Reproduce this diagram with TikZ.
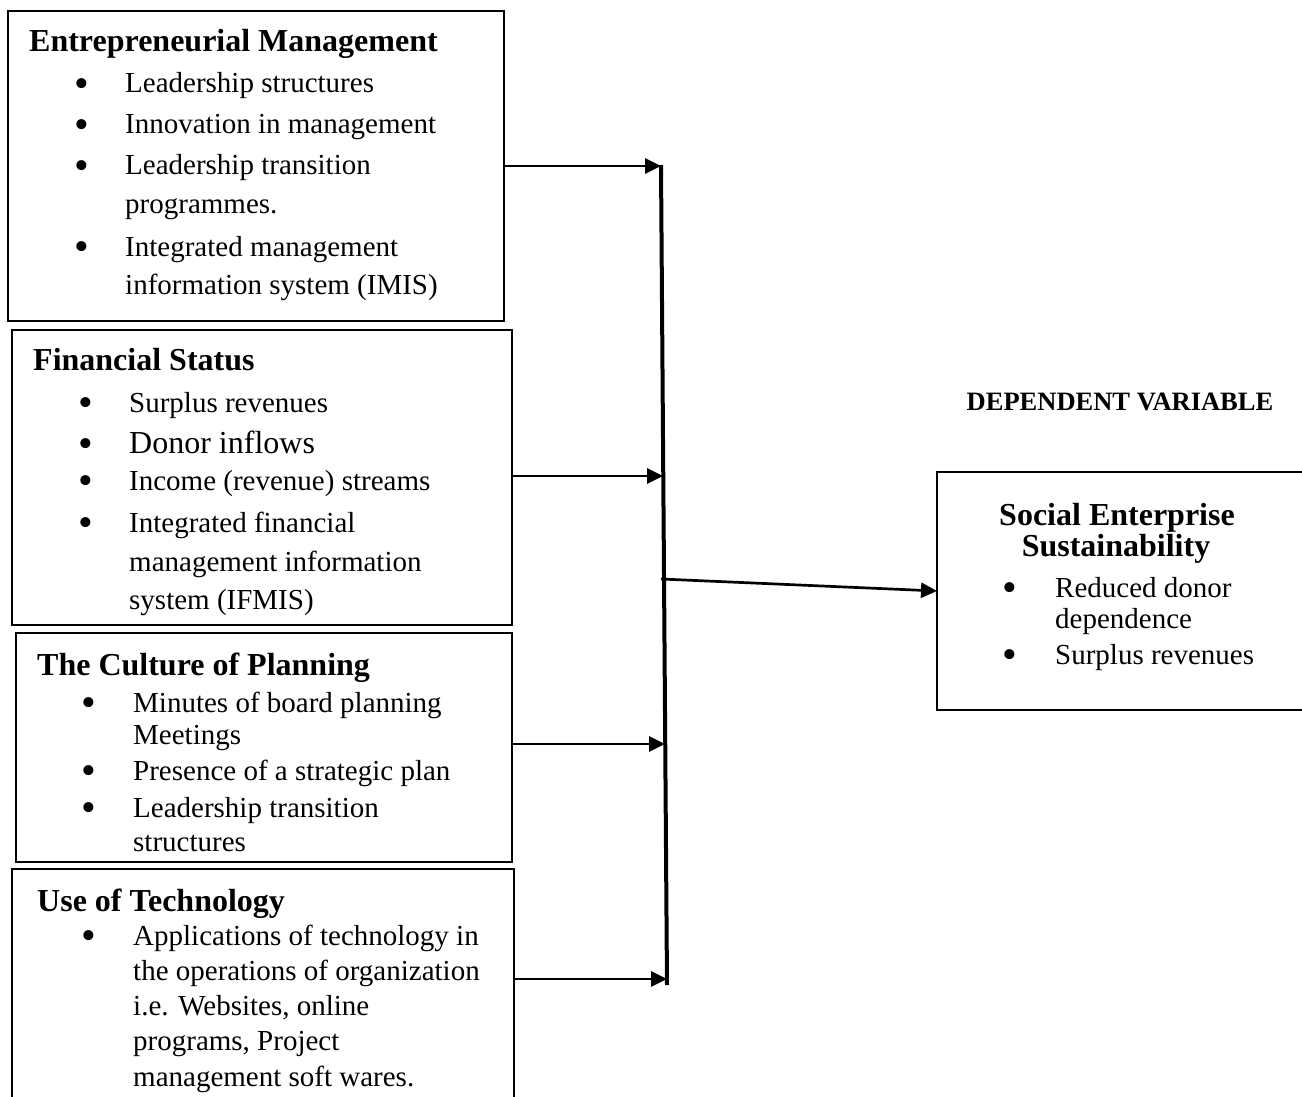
\documentclass[tikz,border=0pt]{standalone}
\usepackage{fontspec}
\setmainfont{Liberation Serif}
\usetikzlibrary{arrows.meta}
\begin{document}
\begin{tikzpicture}[x=1pt,y=-1pt,
  box/.style={draw,line width=2pt,anchor=north west,inner sep=0pt,outer sep=0pt},
  ttl/.style={anchor=base west,inner sep=0pt,font=\fontsize{32}{38}\selectfont\bfseries},
  itm/.style={anchor=base west,inner sep=0pt,font=\fontsize{29}{35}\selectfont},
  bul/.style={anchor=base,inner sep=0pt,yshift=-4.5pt,font=\fontsize{42}{48}\selectfont},
  conn/.style={line width=2.7pt,-{Triangle[length=16pt,width=15pt]}},
]
\useasboundingbox (0,0) rectangle (1302,1097);
\clip (0,0) rectangle (1302,1097);

% boxes
\node[box,minimum width=496pt,minimum height=310pt] (b1) at (8,11) {};
\node[box,minimum width=500pt,minimum height=295pt] (b2) at (12,330) {};
\node[box,minimum width=496pt,minimum height=229pt] (b3) at (16,633) {};
\node[box,minimum width=502pt,minimum height=245pt] (b4) at (12,869) {};
\node[box,minimum width=385pt,minimum height=238pt] (bd) at (937,472) {};

% box 1
\node[ttl] (t1) at (29,52) {Entrepreneurial Management};
\node[bul] (p11) at (82,93) {•};
\node[itm] (l11) at (125,93) {Leadership structures};
\node[bul] (p12) at (82,134) {•};
\node[itm] (l12) at (125,134) {Innovation in management};
\node[bul] (p13) at (82,175) {•};
\node[itm] (l13) at (125,175) {Leadership transition};
\node[itm] (l14) at (125,214) {programmes.};
\node[bul] (p15) at (82,256) {•};
\node[itm] (l15) at (125,256) {Integrated management};
\node[itm] (l16) at (125,294) {information system (IMIS)};

% box 2
\node[ttl] (t2) at (33,370) {Financial Status};
\node[bul] (p21) at (86,412) {•};
\node[itm] (l21) at (129,412) {Surplus revenues};
\node[bul] (p22) at (86,453) {•};
\node[itm,font=\fontsize{32}{38}\selectfont] (l22) at (129,453) {Donor inflows};
\node[bul] (p23) at (86,490) {•};
\node[itm] (l23) at (129,490) {Income (revenue) streams};
\node[bul] (p24) at (86,532) {•};
\node[itm] (l24) at (129,532) {Integrated financial};
\node[itm] (l25) at (129,571) {management information};
\node[itm] (l26) at (129,609) {system (IFMIS)};

% box 3
\node[ttl] (t3) at (37,675) {The Culture of Planning};
\node[bul] (p31) at (89,712) {•};
\node[itm] (l31) at (133,712) {Minutes of board planning};
\node[itm] (l32) at (133,744) {Meetings};
\node[bul] (p33) at (89,780) {•};
\node[itm] (l33) at (133,780) {Presence of a strategic plan};
\node[bul] (p34) at (89,817) {•};
\node[itm] (l34) at (133,817) {Leadership transition};
\node[itm] (l35) at (133,851) {structures};

% box 4
\node[ttl] (t4) at (37,911) {Use of Technology};
\node[bul] (p41) at (89,945) {•};
\node[itm] (l41) at (133,945) {Applications of technology in};
\node[itm] (l42) at (133,980) {the operations of organization};
\node[itm] (l43) at (133,1015) {i.e. Websites, online};
\node[itm] (l44) at (133,1050) {programs, Project};
\node[itm] (l45) at (133,1086) {management soft wares.};

% dependent variable
\node[anchor=base,inner sep=0pt,font=\fontsize{26.5}{32}\selectfont\bfseries] (dv) at (1120,410) {DEPENDENT VARIABLE};
\node[anchor=base,inner sep=0pt,font=\fontsize{32}{38}\selectfont\bfseries] (td1) at (1117,525) {Social Enterprise};
\node[anchor=base,inner sep=0pt,font=\fontsize{32}{38}\selectfont\bfseries] (td2) at (1116,556) {Sustainability};
\node[bul] (pd1) at (1010,597) {•};
\node[itm] (ld1) at (1055,597) {Reduced donor};
\node[itm] (ld2) at (1055,628) {dependence};
\node[bul] (pd3) at (1010,664) {•};
\node[itm] (ld3) at (1055,664) {Surplus revenues};

% connectors
\coordinate (vt) at (661,165);
\coordinate (vb) at (667,985);
\coordinate (j1) at (661,166);
\coordinate (j2) at (663,476);
\coordinate (j3) at (665,744);
\coordinate (j4) at (667,979);
\coordinate (jm) at (661,579);
\draw[line width=4pt] (vt) -- (vb);
\draw[conn] (b1.east |- j1) -- (j1);
\draw[conn] (b2.east |- j2) -- (j2);
\draw[conn] (b3.east |- j3) -- (j3);
\draw[conn] (b4.east |- j4) -- (j4);
\draw[conn] (jm) -- (bd.west);
\end{tikzpicture}
\end{document}
